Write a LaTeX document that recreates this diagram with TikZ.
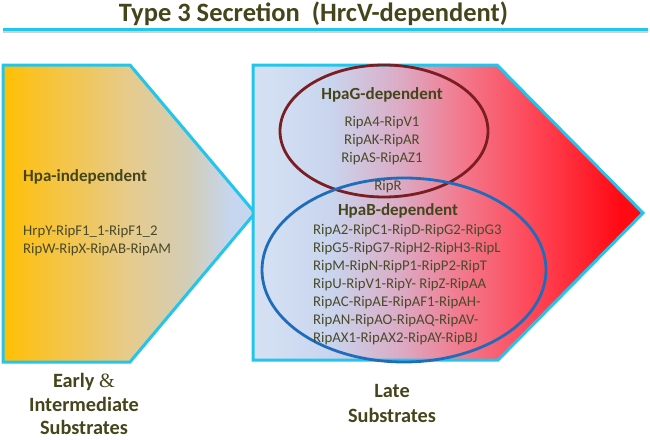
\documentclass[tikz,border=0pt]{standalone}
\usepackage{fontspec}
\setmainfont{Carlito}
\newfontfamily\ampfont{Liberation Serif}
\definecolor{cyanline}{HTML}{22C5EC}
\definecolor{txt}{HTML}{4A4A2A}
\definecolor{head}{HTML}{45451C}
\definecolor{brownell}{HTML}{7A1E22}
\definecolor{blueell}{HTML}{1F6CBA}
\pgfdeclarehorizontalshading{leftshade}{100bp}{
  color(0bp)=(rgb,255:red,255;green,192;blue,0); color(25bp)=(rgb,255:red,255;green,192;blue,0);
  color(31bp)=(rgb,255:red,250;green,194;blue,40);
  color(50bp)=(rgb,255:red,230;green,203;blue,140);
  color(62bp)=(rgb,255:red,210;green,205;blue,184);
  color(70bp)=(rgb,255:red,198;green,214;blue,238);
  color(100bp)=(rgb,255:red,198;green,214;blue,238)}
\pgfdeclarehorizontalshading{rightshade}{100bp}{
  color(0bp)=(rgb,255:red,214;green,226;blue,243); color(25bp)=(rgb,255:red,214;green,226;blue,243);
  color(35bp)=(rgb,255:red,201;green,213;blue,238);
  color(44bp)=(rgb,255:red,220;green,170;blue,196);
  color(51.5bp)=(rgb,255:red,242;green,122;blue,142);
  color(62bp)=(rgb,255:red,255;green,64;blue,80);
  color(72bp)=(rgb,255:red,255;green,10;blue,20);
  color(100bp)=(rgb,255:red,255;green,0;blue,0)}
\tikzset{
  body/.style={font=\fontsize{14.8}{18}\selectfont, text=txt, inner sep=0pt},
  heading/.style={font=\fontsize{17}{20}\selectfont\bfseries, text=head, inner sep=0pt},
  bottomlabel/.style={font=\fontsize{20.3}{24}\selectfont\bfseries, text=head, inner sep=0pt, align=center},
  arrowshape/.style={draw=cyanline, line width=3pt, line join=miter},
  ell/.style={line width=2.8pt}
}
\begin{document}
\begin{tikzpicture}[x=1pt,y=-1pt]
\useasboundingbox (0,0) rectangle (650,439);
% title
\node[font=\fontsize{26.5}{30}\selectfont\bfseries, text=head, inner sep=0pt, anchor=base] (title) at (313.5,21) {Type 3 Secretion\ \ (HrcV-dependent)};
\coordinate (lineL) at (3,29.5);
\coordinate (lineR) at (648,29.5);
\draw[line width=3pt, gray!60, opacity=0.6] ([yshift=-2]lineL) -- ([yshift=-2]lineR);
\draw[line width=3.5pt, cyanline] (lineL) -- (lineR);
% left pentagon
\path[shading=leftshade] (3,65) -- (130,65) -- (255,213) -- (130,362) -- (3,362) -- cycle;
\draw[arrowshape] (3,65) -- (130,65) -- (255,213) -- (130,362) -- (3,362) -- cycle;
% right pentagon
\path[shading=rightshade] (253,65) -- (497,65) -- (643,213) -- (498,360) -- (253,360) -- cycle;
\draw[arrowshape] (253,65) -- (497,65) -- (643,213) -- (498,360) -- (253,360) -- cycle;
% ellipses
\draw[ell, brownell] (384,131) ellipse [x radius=104, y radius=66];
\draw[ell, blueell] (404,270) ellipse [x radius=142, y radius=92];
% left texts
\node[heading, anchor=base west] (hpai) at (23,181) {Hpa-independent};
\node[body, anchor=base west] (l1) at (23,235) {HrpY-RipF1\_1-RipF1\_2};
\node[body, anchor=base west] (l2) at (23,253) {RipW-RipX-RipAB-RipAM};
% HpaG
\node[heading, anchor=base] (hpag) at (382,99) {HpaG-dependent};
\node[body, anchor=base] (g1) at (382,126) {RipA4-RipV1};
\node[body, anchor=base] (g2) at (382,144) {RipAK-RipAR};
\node[body, anchor=base] (g3) at (382,162) {RipAS-RipAZ1};
\node[body, anchor=base] (ripr) at (388,190) {RipR};
% HpaB
\node[heading, anchor=base] (hpab) at (398,215) {HpaB-dependent};
\node[body, anchor=base west] (b1) at (313,234) {RipA2-RipC1-RipD-RipG2-RipG3};
\node[body, anchor=base west] (b2) at (313,252) {RipG5-RipG7-RipH2-RipH3-RipL};
\node[body, anchor=base west] (b3) at (313,270) {RipM-RipN-RipP1-RipP2-RipT};
\node[body, anchor=base west] (b4) at (313,288) {RipU-RipV1-RipY- RipZ-RipAA};
\node[body, anchor=base west] (b5) at (313,306) {RipAC-RipAE-RipAF1-RipAH-};
\node[body, anchor=base west] (b6) at (313,324) {RipAN-RipAO-RipAQ-RipAV-};
\node[body, anchor=base west] (b7) at (313,342) {RipAX1-RipAX2-RipAY-RipBJ};
% bottom labels
\node[bottomlabel, anchor=base] (early) at (84,387) {Early {\ampfont\mdseries\&}};
\node[bottomlabel, anchor=base] (inter) at (84,411.5) {Intermediate};
\node[bottomlabel, anchor=base] (subs1) at (84,434.5) {Substrates};
\node[bottomlabel, anchor=base] (late) at (392,397) {Late};
\node[bottomlabel, anchor=base] (subs2) at (392,422) {Substrates};
\end{tikzpicture}
\end{document}
